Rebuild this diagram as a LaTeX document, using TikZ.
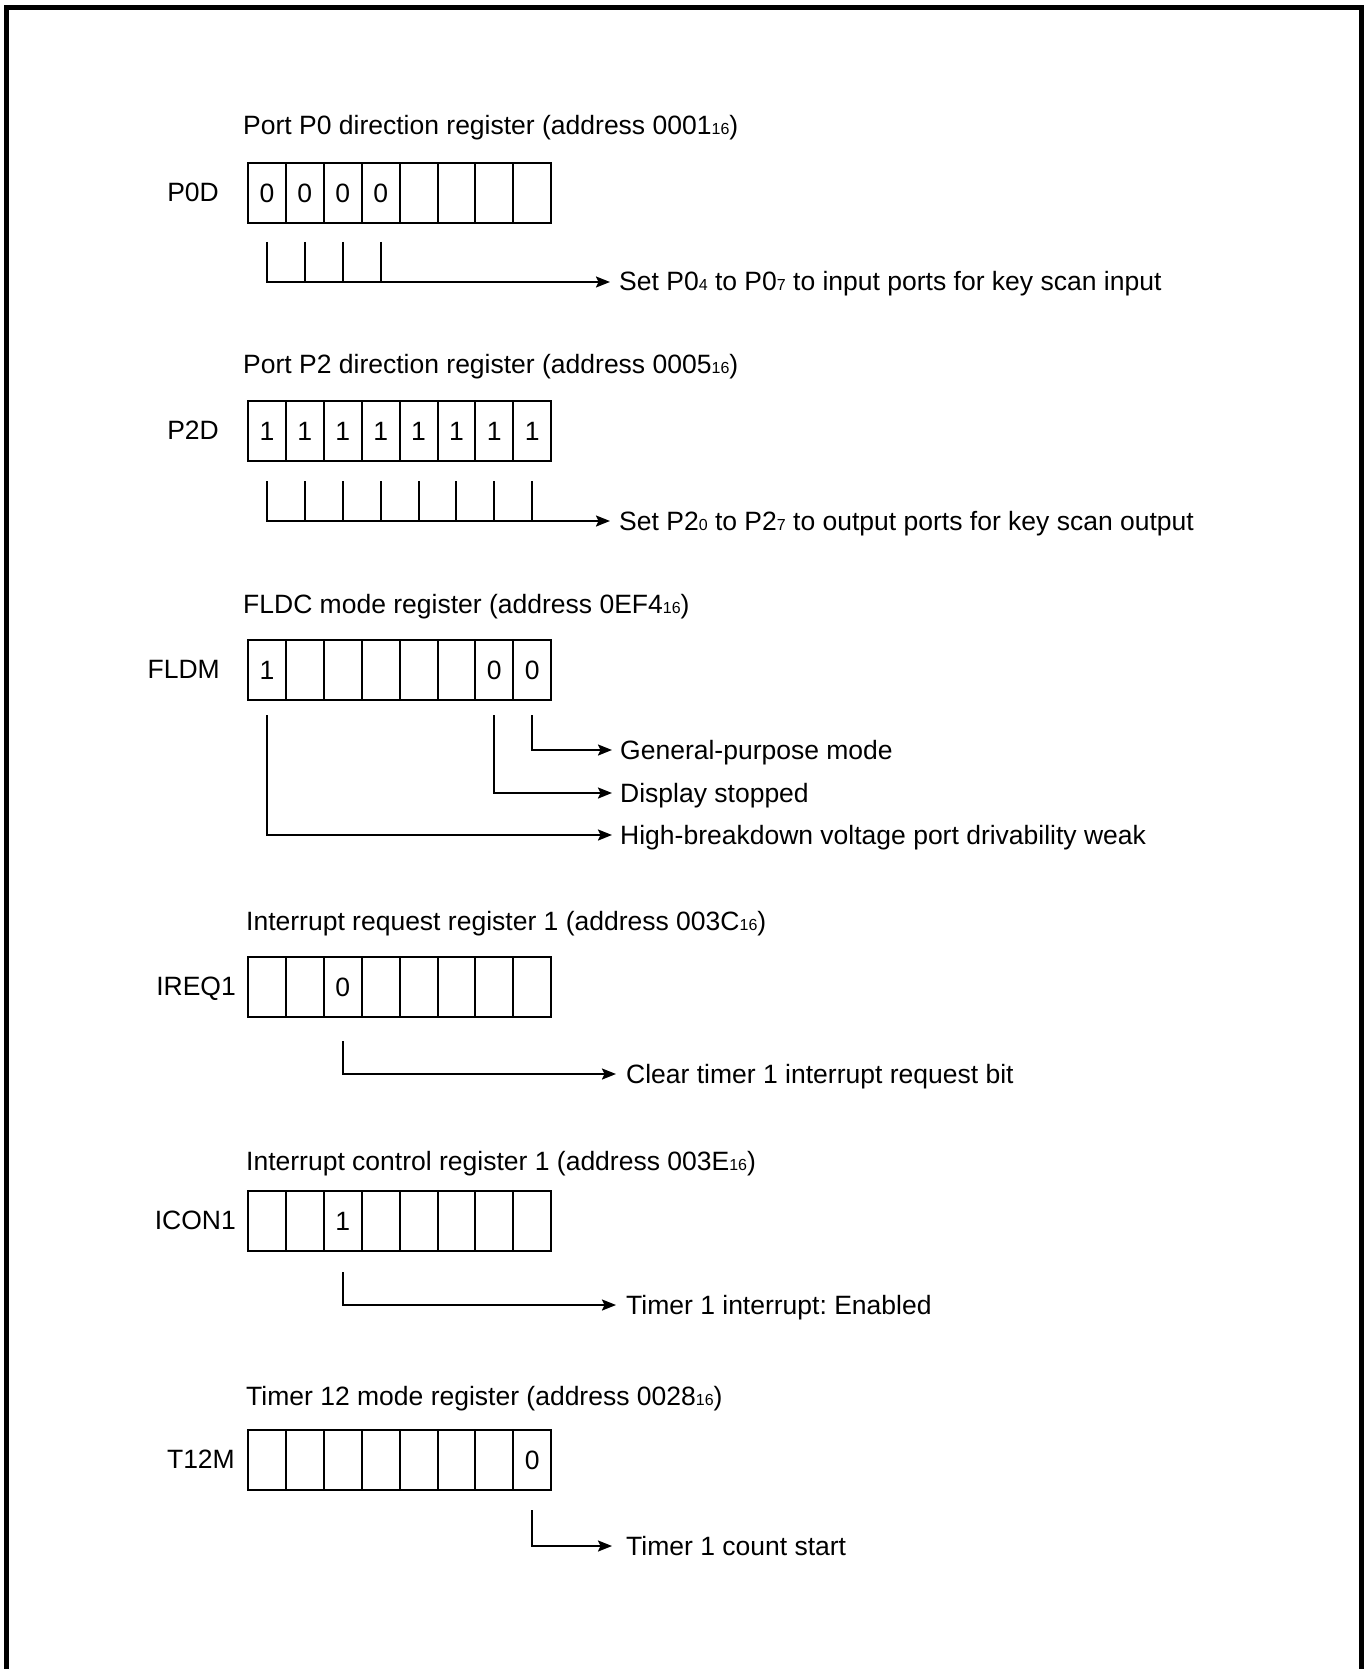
\documentclass[tikz,border=0pt]{standalone}
\usepackage{fontspec}
\setmainfont{Liberation Sans}
\usetikzlibrary{arrows.meta}
\frenchspacing
\newcommand\lowsub[1]{{\fontsize{16}{16}\selectfont #1}}
\begin{document}
\begin{tikzpicture}[x=1pt,y=-1pt,
  every node/.style={font=\fontsize{26.5}{32}\selectfont, inner sep=0pt},
  cellbox/.style={draw, line width=2pt, minimum width=37.9pt, minimum height=60pt, anchor=north west},
  lbl/.style={anchor=base west},
  reglabel/.style={anchor=base east},
  conn/.style={line width=2pt},
  arr/.style={line width=2pt, -{Stealth[length=14pt,width=11pt,inset=2.5pt]}},
]
\useasboundingbox (0,0) rectangle (1368,1669);
\draw[line width=5pt] (6.5,1669) -- (6.5,7.5) -- (1361.5,7.5) -- (1361.5,1669);

% ---------- Port P0 direction register ----------
\node[lbl] (t1) at (243,135) {Port P0 direction register (address 0001\lowsub{16})};
\node[reglabel] (r1) at (219,201.5) {P0D};
\foreach \i/\b in {0/0,1/0,2/0,3/0,4/,5/,6/,7/}
  \node[cellbox] (a\i) at ({247+37.9*\i},162) {\b};
\coordinate (a-t) at (610,282);
\draw[arr] (a0.south |- 0,242) |- (a-t);
\foreach \i in {1,2,3} \draw[conn] (a\i.south |- 0,242) -- (a\i.south |- a-t);
\node[lbl] (a-x) at (619,291) {Set P0\lowsub{4} to P0\lowsub{7} to input ports for key scan input};

% ---------- Port P2 direction register ----------
\node[lbl] (t2) at (243,373) {Port P2 direction register (address 0005\lowsub{16})};
\node[reglabel] (r2) at (219,439.5) {P2D};
\foreach \i in {0,...,7}
  \node[cellbox] (b\i) at ({247+37.9*\i},400) {1};
\coordinate (b-t) at (610,521);
\draw[arr] (b0.south |- 0,481) |- (b-t);
\foreach \i in {1,...,7} \draw[conn] (b\i.south |- 0,481) -- (b\i.south |- b-t);
\node[lbl] (b-x) at (619,530) {Set P2\lowsub{0} to P2\lowsub{7} to output ports for key scan output};

% ---------- FLDC mode register ----------
\node[lbl] (t3) at (243,613) {FLDC mode register (address 0EF4\lowsub{16})};
\node[reglabel] (r3) at (220,678.5) {FLDM};
\foreach \i/\b in {0/1,1/,2/,3/,4/,5/,6/0,7/0}
  \node[cellbox] (c\i) at ({247+37.9*\i},639) {\b};
\coordinate (c-t7) at (612,750);
\coordinate (c-t6) at (612,793);
\coordinate (c-t0) at (612,835);
\draw[arr] (c7.south |- 0,715) |- (c-t7);
\draw[arr] (c6.south |- 0,715) |- (c-t6);
\draw[arr] (c0.south |- 0,715) |- (c-t0);
\node[lbl] (c-x7) at (620,759) {General-purpose mode};
\node[lbl] (c-x6) at (620,802) {Display stopped};
\node[lbl] (c-x0) at (620,844) {High-breakdown voltage port drivability weak};

% ---------- Interrupt request register 1 ----------
\node[lbl] (t4) at (246,930) {Interrupt request register 1 (address 003C\lowsub{16})};
\node[reglabel] (r4) at (236,995.5) {IREQ1};
\foreach \i/\b in {0/,1/,2/0,3/,4/,5/,6/,7/}
  \node[cellbox] (d\i) at ({247+37.9*\i},956) {\b};
\coordinate (d-t) at (616,1074);
\draw[arr] (d2.south |- 0,1041) |- (d-t);
\node[lbl] (d-x) at (626,1083) {Clear timer 1 interrupt request bit};

% ---------- Interrupt control register 1 ----------
\node[lbl] (t5) at (246,1170) {Interrupt control register 1 (address 003E\lowsub{16})};
\node[reglabel] (r5) at (236,1229.5) {ICON1};
\foreach \i/\b in {0/,1/,2/1,3/,4/,5/,6/,7/}
  \node[cellbox] (e\i) at ({247+37.9*\i},1190) {\b};
\coordinate (e-t) at (616,1305);
\draw[arr] (e2.south |- 0,1272) |- (e-t);
\node[lbl] (e-x) at (626,1314) {Timer 1 interrupt: Enabled};

% ---------- Timer 12 mode register ----------
\node[lbl] (t6) at (246,1405) {Timer 12 mode register (address 0028\lowsub{16})};
\node[reglabel] (r6) at (235,1468.5) {T12M};
\foreach \i/\b in {0/,1/,2/,3/,4/,5/,6/,7/0}
  \node[cellbox] (f\i) at ({247+37.9*\i},1429) {\b};
\coordinate (f-t) at (612,1546);
\draw[arr] (f7.south |- 0,1510) |- (f-t);
\node[lbl] (f-x) at (626,1555) {Timer 1 count start};
\end{tikzpicture}
\end{document}
